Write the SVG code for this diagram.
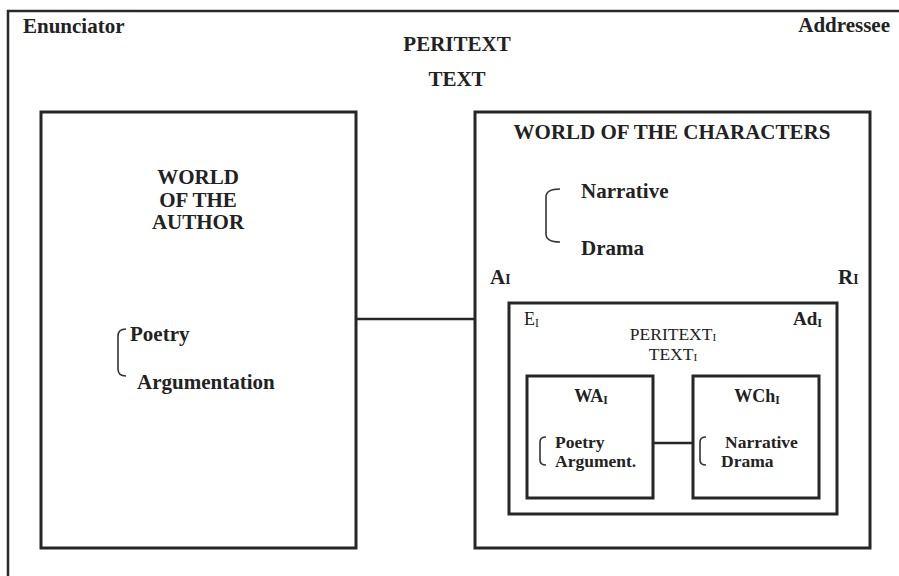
<svg xmlns="http://www.w3.org/2000/svg" width="899" height="576" viewBox="0 0 899 576" font-family="'Liberation Serif', 'Times New Roman', serif">
<style>
.frame{fill:none;stroke:#2a2a2a;stroke-width:2.5}
.box{fill:none;stroke:#262626;stroke-width:3}
.line{fill:none;stroke:#262626;stroke-width:2.5}
.br{fill:none;stroke:#333;stroke-width:1.6}
text{font-family:'Liberation Serif','Times New Roman',serif;fill:#222}
.b{font-weight:bold;font-size:21px}
.bs{font-weight:bold;font-size:17.5px}
.r{font-size:18px}
.m{text-anchor:middle}
.sub{font-size:65%}
</style>
<rect width="899" height="576" fill="#fff"/>
<g id="outer">
<rect class="frame" x="8" y="11" width="900" height="580"/>
<text class="b" x="23" y="33">Enunciator</text>
<text class="b" x="890" y="32" text-anchor="end">Addressee</text>
<text class="b m" x="457" y="51">PERITEXT</text>
<text class="b m" x="457" y="86">TEXT</text>
</g>
<g id="connectors">
<line class="line" x1="356" y1="319" x2="475" y2="319"/>
<line class="line" x1="653" y1="443" x2="693" y2="443"/>
</g>
<g id="world-author">
<rect class="box" x="41" y="112" width="315" height="436"/>
<text class="b m" x="198" y="184">WORLD</text>
<text class="b m" x="198" y="207">OF THE</text>
<text class="b m" x="198" y="229">AUTHOR</text>
<path class="br" d="M126,329 Q118,329 118,336 L118,369 Q118,376 126,376"/>
<text class="b" x="130" y="341">Poetry</text>
<text class="b" x="137" y="389">Argumentation</text>
</g>
<g id="world-characters">
<rect class="box" x="475" y="112" width="395" height="436"/>
<text class="b m" x="672" y="139">WORLD OF THE CHARACTERS</text>
<path class="br" d="M560,189 Q546,189 546,197 L546,234 Q546,242 560,242"/>
<text class="b" x="581" y="198">Narrative</text>
<text class="b" x="581" y="255">Drama</text>
<text class="b" x="490" y="284">A<tspan class="sub">I</tspan></text>
<text class="b" x="838" y="284">R<tspan class="sub">I</tspan></text>
</g>
<g id="inner-text">
<rect class="box" x="509" y="303" width="328" height="211"/>
<text class="r" x="524" y="325">E<tspan class="sub" dy="2">I</tspan></text>
<text class="b" x="793" y="325" style="font-size:19px">Ad<tspan class="sub" dy="2">I</tspan></text>
<text class="r m" x="673" y="340" style="font-size:17.5px">PERITEXT<tspan class="sub" dy="1">I</tspan></text>
<text class="r m" x="673" y="360" style="font-size:17.5px">TEXT<tspan class="sub" dy="1">I</tspan></text>
</g>
<g id="wa-i">
<rect class="box" x="527" y="376" width="126" height="122"/>
<text class="bs m" x="591" y="402" style="font-size:18px">WA<tspan class="sub" dy="2">I</tspan></text>
<path class="br" d="M546,437 Q540,437 540,442 L540,460 Q540,465 546,465"/>
<text class="bs" x="555" y="448">Poetry</text>
<text class="bs" x="555" y="467">Argument.</text>
</g>
<g id="wch-i">
<rect class="box" x="693" y="376" width="126" height="122"/>
<text class="bs m" x="757" y="402" style="font-size:18px">WCh<tspan class="sub" dy="2">I</tspan></text>
<path class="br" d="M706,437 Q700,437 700,442 L700,460 Q700,465 706,465"/>
<text class="bs" x="725" y="448">Narrative</text>
<text class="bs" x="721" y="467">Drama</text>
</g>
</svg>
